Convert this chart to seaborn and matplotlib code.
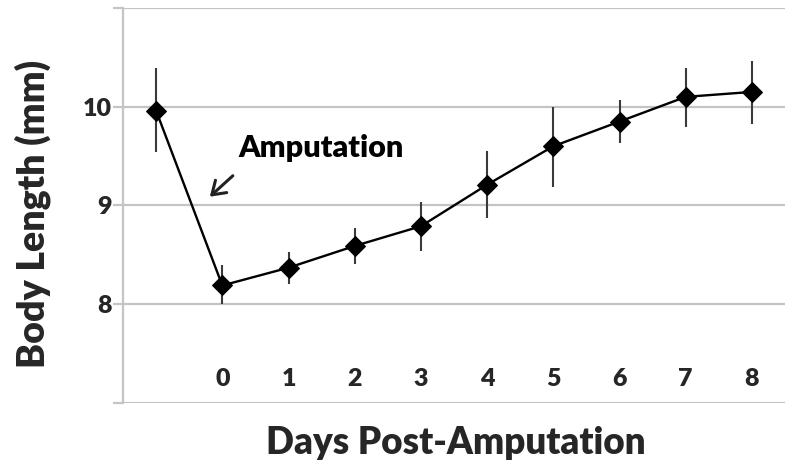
import matplotlib
matplotlib.use("Agg")
import matplotlib.pyplot as plt
import seaborn as sns
import pandas as pd
from matplotlib.ticker import FixedLocator, FixedFormatter

# data
day_labels = ["", "0", "1", "2", "3", "4", "5", "6", "7", "8"]
body_length = [9.96, 8.19, 8.37, 8.59, 8.79, 9.21, 9.60, 9.85, 10.10, 10.15]
err_low = [0.42, 0.19, 0.17, 0.18, 0.25, 0.34, 0.41, 0.22, 0.31, 0.32]
err_high = [0.43, 0.21, 0.16, 0.18, 0.25, 0.34, 0.40, 0.22, 0.29, 0.31]
y_ticks = [7, 8, 9, 10, 11]
y_tick_labels = ["", "8", "9", "10", ""]

sns.set_theme(style="white")
plt.rcParams["font.family"] = ["Lato", "DejaVu Sans"]

df = pd.DataFrame({"pos": list(range(len(day_labels))), "length": body_length})

fig = plt.figure(figsize=(7.85, 4.70), dpi=100)
ax = fig.add_axes([0.1567, 0.1426, 0.8433, 0.8404])

grid_c = "#c4c4c4"
for v in y_ticks:
    ax.axhline(v, color=grid_c, lw=1.6, zorder=0)

ax.errorbar(df["pos"], df["length"], yerr=[err_low, err_high], fmt="none",
            ecolor="#3a3a3a", elinewidth=1.5, capsize=0, zorder=2)
sns.lineplot(data=df, x="pos", y="length", ax=ax, color="black", lw=1.7,
             marker="D", markersize=10, markeredgecolor="black", zorder=3)

ax.set_xlim(-0.5, len(day_labels) - 0.5)
ax.set_ylim(7, 11)
ax.xaxis.set_major_locator(FixedLocator(list(range(len(day_labels)))))
ax.xaxis.set_major_formatter(FixedFormatter(day_labels))
ax.yaxis.set_major_locator(FixedLocator(y_ticks))
ax.yaxis.set_major_formatter(FixedFormatter(y_tick_labels))

for s in ["top", "right", "bottom"]:
    ax.spines[s].set_visible(False)
ax.spines["left"].set_color(grid_c)
ax.spines["left"].set_linewidth(1.6)

ax.tick_params(axis="y", length=7, width=1.6, color=grid_c, pad=1,
               labelsize=18, left=True)
ax.tick_params(axis="x", length=0, pad=-25, labelsize=18)
for lab in ax.get_xticklabels() + ax.get_yticklabels():
    lab.set_fontweight("heavy")

ax.set_xlabel("Days Post-Amputation", fontsize=26.5, fontweight="heavy")
ax.set_ylabel("Body Length (mm)", fontsize=27, fontweight="heavy")
ax.xaxis.label.set_va("center")
ax.yaxis.label.set_va("center")
ax.xaxis.set_label_coords(0.503, -0.101)
ax.yaxis.set_label_coords(-0.136, 0.478)

ax.annotate("", xy=(0.78, 9.07), xytext=(1.19, 9.32),
            arrowprops=dict(arrowstyle="->,head_length=0.45,head_width=0.3",
                            color="#222222", lw=2.2, mutation_scale=20))
ax.text(1.237, 9.58, "Amputation", fontsize=22, fontweight="heavy",
        ha="left", va="center", color="black")

fig.savefig("out.png", dpi=100)
